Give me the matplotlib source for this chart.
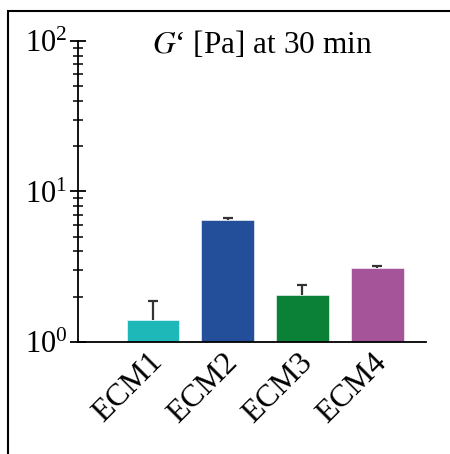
import numpy as np
import matplotlib
matplotlib.use("Agg")
import matplotlib.pyplot as plt
from matplotlib.patches import Rectangle
from matplotlib.transforms import ScaledTranslation

# data
labels = ["ECM1", "ECM2", "ECM3", "ECM4"]
values = [1.40, 6.44, 2.06, 3.10]
err_up = [0.46, 0.27, 0.34, 0.10]
colors = ["#1fb8b8", "#224e9a", "#0b8137", "#a5549a"]

plt.rcParams["font.family"] = ["Liberation Serif", "DejaVu Serif"]
plt.rcParams["mathtext.fontset"] = "stix"

fig = plt.figure(figsize=(4.5, 4.54), dpi=100)
ax = fig.add_axes([0.1733, 0.2467, 0.7733, 0.663])

x = np.arange(len(labels))
ax.bar(x, values, width=0.7, color=colors, edgecolor="white", linewidth=0.4)

# upper error bars only: stem plus a single cap at the top
tops = np.array(values) + np.array(err_up)
ax.vlines(x, values, tops, color="#333333", linewidth=1.6)
ax.plot(x, tops, linestyle="none", marker="_", markersize=7,
        markeredgewidth=1.6, color="#333333")

ax.set_yscale("log")
ax.set_ylim(1, 100)
ax.set_xlim(-1, 3.65)

ax.spines["top"].set_visible(False)
ax.spines["right"].set_visible(False)
for s in ["left", "bottom"]:
    ax.spines[s].set_linewidth(1.3)

ax.tick_params(axis="y", which="major", direction="inout", length=11, width=1.3, labelsize=22, pad=2)
ax.tick_params(axis="y", which="minor", direction="inout", length=6.5, width=1.1)
ax.tick_params(axis="x", length=0, labelsize=23, pad=4)

ax.set_xticks(x)
ax.set_xticklabels(labels, rotation=45, ha="right", rotation_mode="anchor")
shift = ScaledTranslation(-5 / 100, 0, fig.dpi_scale_trans)
for lab in ax.get_xticklabels():
    lab.set_transform(lab.get_transform() + shift)

ax.text(0.53, 0.96, "$G$\u2018 [Pa] at 30 min", transform=ax.transAxes,
        ha="center", va="baseline", fontsize=22.5)

# outer frame, partly cut off by the image edge
fig.patches.append(Rectangle((8 / 450, -0.1), 1.0, (454 - 11) / 454 + 0.1,
                             transform=fig.transFigure, fill=False,
                             edgecolor="black", linewidth=1.5))

fig.savefig("out.png", dpi=100)
